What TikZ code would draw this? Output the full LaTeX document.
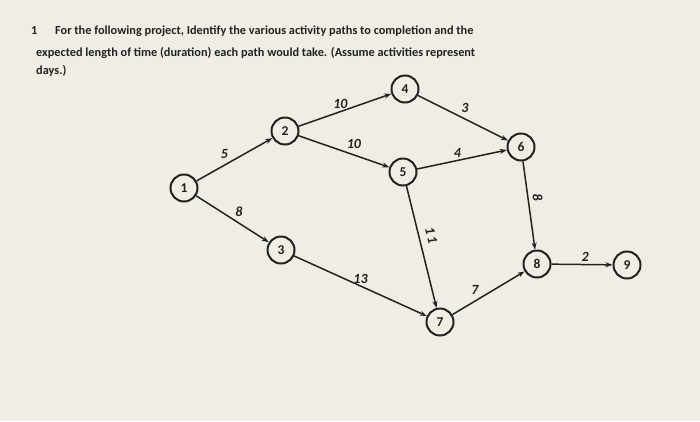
\documentclass[tikz,border=0pt]{standalone}
\usepackage{fontspec}
\setmainfont{Carlito}
\usetikzlibrary{arrows.meta}
\definecolor{paper}{RGB}{239,237,228}
\definecolor{ink}{RGB}{34,34,34}

\begin{document}
\begin{tikzpicture}[x=1pt,y=-1pt]
  \tikzset{event/.style = {shape=circle,draw=ink,line width=2pt,minimum size=27pt,inner sep=0pt,text=ink,font=\bfseries\fontsize{13.5}{13.5}\selectfont}}
  \tikzset{activity/.style = {draw=ink,line width=1.5pt,-{Stealth[length=7pt,width=5pt]}}}
  \tikzset{dur/.style = {text=ink,inner sep=2pt,font=\bfseries\itshape\fontsize{14}{14}\selectfont}}
  \tikzset{question/.style = {anchor=base west,inner sep=0pt,text=ink,font=\bfseries\fontsize{12.3}{14}\selectfont}}

	\fill[paper] (0,0) rectangle (700,421);
	\useasboundingbox (0,0) rectangle (700,421);

	\node[question] (qnum) at (31,34) {1};
	\node[question] (qline1) at (55,34) {For the following project, Identify the various activity paths to completion and the};
	\node[question] (qline2) at (36,56) {expected length of time (duration) each path would take. (Assume activities represent};
	\node[question] (qline3) at (36,74) {days.)};

	\node[event] (E1) at (184,188) {1};
	\node[event] (E2) at (285,131) {2};
	\node[event] (E3) at (281,250) {3};
	\node[event] (E4) at (405,89) {4};
	\node[event] (E5) at (403,172) {5};
	\node[event] (E6) at (521,147) {6};
	\node[event] (E7) at (440,322) {7};
	\node[event] (E8) at (537,264) {8};
	\node[event] (E9) at (627,265) {9};

    \path[activity](E1) edge node [dur,above left,pos=0.45]{5} (E2);
    \path[activity](E1) edge node [dur,above right,pos=0.5]{8} (E3);
    \path[activity](E2) edge node [dur,above,pos=0.45]{10} (E4);
    \path[activity](E2) edge node [dur,above right,pos=0.5]{10} (E5);
    \path[activity](E4) edge node [dur,above right,pos=0.45]{3} (E6);
    \path[activity](E5) edge node [dur,above,pos=0.45]{4} (E6);
    \path[activity](E5) edge node [dur,sloped,above=5pt,pos=0.43]{1\kern2pt1} (E7);
    \path[activity](E3) edge node [dur,above,pos=0.5]{13} (E7);
    \path[activity](E7) edge node [dur,above left,pos=0.4]{7} (E8);
    \path[activity](E6) edge node [dur,sloped,above=2pt,pos=0.42]{8} (E8);
    \path[activity](E8) edge node [dur,above,pos=0.55]{2} (E9);

\end{tikzpicture}
\end{document}
